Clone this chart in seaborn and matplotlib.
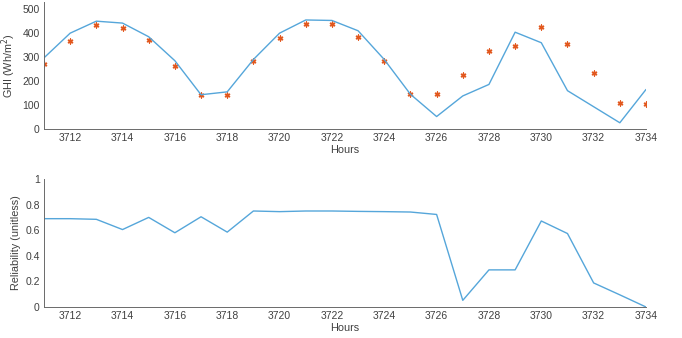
import numpy as np
import pandas as pd
import seaborn as sns
import matplotlib.pyplot as plt

# datos
hours = list(range(3711, 3735))
ghi_line = [297, 400, 450, 442, 385, 285, 143, 155, 290, 400, 455, 453,
            410, 290, 145, 52, 138, 186, 404, 360, 160, 93, 26, 165]
ghi_marks = [272, 366, 436, 423, 373, 265, 143, 143, 283, 381, 438, 438,
             383, 282, 146, 146, 226, 326, 347, 424, 353, 232, 110, 105]
reliability = [0.69, 0.69, 0.685, 0.605, 0.70, 0.58, 0.705, 0.585, 0.75, 0.745,
               0.75, 0.75, 0.747, 0.745, 0.742, 0.723, 0.052, 0.29, 0.29, 0.672,
               0.574, 0.188, 0.095, 0.0]
xticks = list(range(3712, 3735, 2))

df = pd.DataFrame({'Hours': hours, 'line': ghi_line, 'marks': ghi_marks, 'rel': reliability})

sns.set_style('white')
plt.rcParams['font.family'] = ['Liberation Sans', 'DejaVu Sans']
plt.rcParams['xtick.direction'] = 'in'
plt.rcParams['ytick.direction'] = 'in'

azul = '#55a6da'
naranja = '#e2581e'
gris = '#404040'

fig = plt.figure(figsize=(6.82, 3.38), dpi=100)
ax1 = fig.add_axes([44/682, 1 - 129/338, 602/682, 127/338])
ax2 = fig.add_axes([44/682, 1 - 307/338, 602/682, 128/338])

sns.lineplot(x='Hours', y='line', data=df, ax=ax1, color=azul, linewidth=1)
sns.scatterplot(x='Hours', y='marks', data=df, ax=ax1, color=naranja, marker=(6, 2, 0),
                s=12, linewidth=1.0, edgecolor=naranja)
ax1.set_ylim(0, 530)
ax1.set_yticks([0, 100, 200, 300, 400, 500])
ax1.set_ylabel('GHI (Wh/m$^2$)', fontsize=7.8, color=gris, labelpad=3)

sns.lineplot(x='Hours', y='rel', data=df, ax=ax2, color=azul, linewidth=1)
ax2.set_ylim(0, 1)
ax2.set_yticks([0, 0.2, 0.4, 0.6, 0.8, 1])
ax2.set_yticklabels(['0', '0.2', '0.4', '0.6', '0.8', '1'])
ax2.set_ylabel('Reliability (unitless)', fontsize=7.8, color=gris, labelpad=3)

for ax in (ax1, ax2):
    ax.set_xlim(3711, 3734)
    ax.set_xticks(xticks)
    ax.set_xlabel('Hours', fontsize=7.8, color=gris, labelpad=1)
    ax.tick_params(labelsize=7.5, colors=gris, length=4, width=0.6, pad=3)
    for s in ('top', 'right'):
        ax.spines[s].set_visible(False)
    for s in ('left', 'bottom'):
        ax.spines[s].set_color('#6a6a6a')
        ax.spines[s].set_linewidth(0.7)
    ax.grid(False)

fig.savefig('out.png', dpi=100)
